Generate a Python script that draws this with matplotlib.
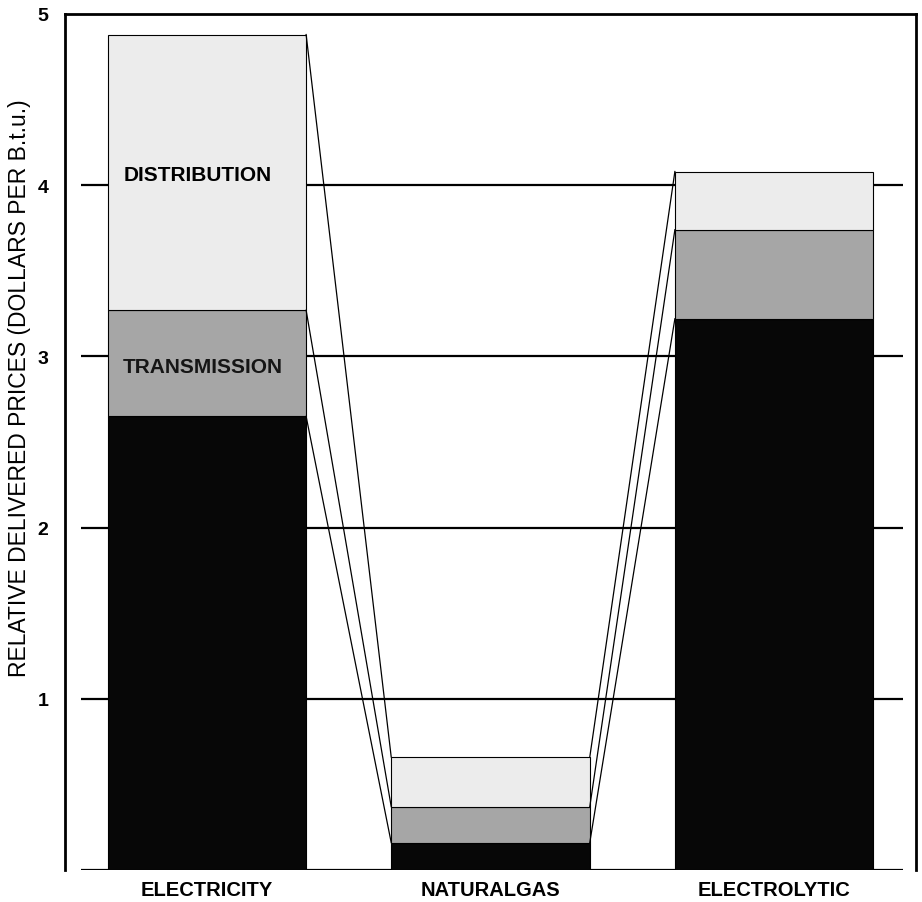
import matplotlib
matplotlib.use("Agg")
import matplotlib.pyplot as plt
import numpy as np

categories = ["ELECTRICITY", "NATURALGAS", "ELECTROLYTIC"]
generation = [2.65, 0.16, 3.22]
transmission = [0.62, 0.21, 0.52]
distribution = [1.61, 0.29, 0.34]
yticks = [1, 2, 3, 4, 5]
grid_levels = [0, 1, 2, 3, 4]

plt.rcParams['font.family'] = ['Liberation Sans', 'DejaVu Sans']

fig = plt.figure(figsize=(9.22, 9.03), dpi=100)
ax = fig.add_axes([65/922, 1-871/903, (916-65)/922, (871-15)/903])

x = np.arange(len(categories))
w = 0.7
gen = np.array(generation)
trn = np.array(transmission)
dst = np.array(distribution)

ax.hlines(grid_levels, -0.445, 2.454, color='black', lw=1.6, zorder=1)

ax.bar(x, gen, w, color='#070707', edgecolor='black', lw=0.8, zorder=3)
ax.bar(x, trn, w, bottom=gen, color='#a6a6a6', edgecolor='black', lw=0.8, zorder=3)
ax.bar(x, dst, w, bottom=gen+trn, color='#ececec', edgecolor='black', lw=0.8, zorder=3)

tops = [gen, gen+trn, gen+trn+dst]
for lvl in tops:
    for i in range(len(x)-1):
        ax.plot([x[i]+w/2, x[i+1]-w/2], [lvl[i], lvl[i+1]], color='black', lw=0.9, zorder=4)

ax.text(x[0]-w/2+0.055, 4.06, "DISTRIBUTION", fontsize=15, fontweight='bold', va='center', ha='left', zorder=5)
ax.text(x[0]-w/2+0.052, 2.94, "TRANSMISSION", fontsize=15, fontweight='bold', va='center', ha='left', zorder=5, color='#151515')

ax.set_xlim(-0.5, 2.5)
ax.set_ylim(0, 4.99)
ax.set_yticks(yticks)
ax.set_yticklabels([str(v) for v in yticks], fontsize=14, fontweight='bold')
ax.tick_params(axis='y', length=0, pad=12)
ax.set_xticks(x)
ax.set_xticklabels(categories, fontsize=14.5, fontweight='bold')
ax.tick_params(axis='x', length=0, pad=7)

for s in ['left', 'top', 'right']:
    ax.spines[s].set_linewidth(2)
ax.spines['bottom'].set_visible(False)

ax.set_ylabel("RELATIVE DELIVERED PRICES (DOLLARS PER B.t.u.)", fontsize=16.5)
ax.yaxis.set_label_coords(-0.040, 0.564)

fig.savefig("out.png", dpi=100)
